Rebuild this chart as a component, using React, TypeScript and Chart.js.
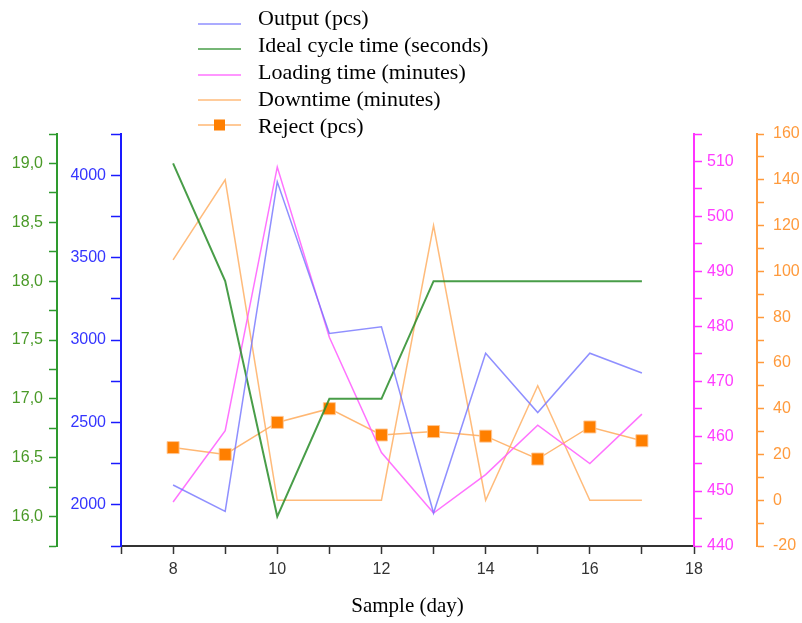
import React, { useEffect, useRef } from 'react';
import { Chart, registerables } from 'chart.js';

Chart.register(...registerables);

// ---- data ----
const days = [8, 9, 10, 11, 12, 13, 14, 15, 16, 17];
const outputPcs = [2120, 1960, 3960, 3040, 3080, 1950, 2920, 2560, 2920, 2800];
const idealCycleSec = [19.0, 18.0, 16.0, 17.0, 17.0, 18.0, 18.0, 18.0, 18.0, 18.0];
const loadingTimeMin = [448, 461, 509, 478, 457, 446, 453, 462, 455, 464];
const downtimeMin = [105, 140, 0, 0, 0, 120, 0, 50, 0, 0];
const rejectPcs = [23, 20, 34, 40, 28.5, 30, 28, 18, 32, 26];

const seriesLabels = [
  'Output (pcs)',
  'Ideal cycle time (seconds)',
  'Loading time (minutes)',
  'Downtime (minutes)',
  'Reject (pcs)',
];
const xTitle = 'Sample (day)';

const SANS = '"Liberation Sans", Arial, sans-serif';
const SERIF = '"Liberation Serif", "Times New Roman", serif';

const pts = (ys: number[]) => days.map((d, i) => ({ x: d, y: ys[i] }));

const legendPlugin = {
  id: 'customLegend',
  afterDraw(chart: any) {
    const ctx = chart.ctx as CanvasRenderingContext2D;
    const textY = [19, 46, 73, 100, 127];
    const lineY = [24, 49, 75, 100, 125];
    ctx.save();
    ctx.font = `22px ${SERIF}`;
    ctx.textBaseline = 'middle';
    ctx.textAlign = 'left';
    chart.data.datasets.forEach((ds: any, i: number) => {
      ctx.strokeStyle = ds.borderColor;
      ctx.lineWidth = 1.5;
      ctx.beginPath();
      ctx.moveTo(198, lineY[i]);
      ctx.lineTo(241, lineY[i]);
      ctx.stroke();
      if (ds.pointRadius > 0) {
        ctx.fillStyle = ds.pointBackgroundColor;
        ctx.fillRect(214, lineY[i] - 5.5, 11, 11);
      }
      ctx.fillStyle = '#000';
      ctx.fillText(ds.label, 258, textY[i]);
    });
    ctx.restore();
  },
};

function yAxis(
  position: 'left' | 'right',
  weight: number,
  min: number,
  max: number,
  step: number,
  labelEvery: number,
  decimals: number,
  axisColor: string,
  labelColor: string,
  width: number,
  tickLen: number,
  pad: number
) {
  return {
    type: 'linear',
    position,
    weight,
    min,
    max,
    ticks: {
      stepSize: step,
      autoSkip: false,
      maxTicksLimit: 100,
      color: labelColor,
      font: { family: SANS, size: 16 },
      padding: pad,
      callback: (v: number) => {
        const r = Math.round(v / labelEvery * 1000) / 1000;
        if (Math.abs(r - Math.round(r)) > 1e-6) return '';
        return decimals > 0 ? v.toFixed(decimals).replace('.', ',') : String(Math.round(v));
      },
    },
    grid: {
      drawOnChartArea: false,
      drawTicks: true,
      tickLength: tickLen,
      tickColor: axisColor,
      tickWidth: 1.5,
      color: axisColor,
    },
    border: { display: true, color: axisColor, width: 2 },
    afterFit: (s: any) => {
      s.width = width;
    },
  };
}

export default function App() {
  const canvasRef = useRef<HTMLCanvasElement | null>(null);

  useEffect(() => {
    if (!canvasRef.current) return;
    const chart = new Chart(canvasRef.current, {
      type: 'line',
      data: {
        datasets: [
          {
            label: seriesLabels[0],
            data: pts(outputPcs),
            yAxisID: 'yOut',
            borderColor: 'rgba(115,115,255,0.8)',
            backgroundColor: 'rgba(115,115,255,0.8)',
            borderWidth: 1.5,
            pointRadius: 0,
          },
          {
            label: seriesLabels[1],
            data: pts(idealCycleSec),
            yAxisID: 'yCycle',
            borderColor: 'rgba(40,140,40,0.85)',
            backgroundColor: 'rgba(40,140,40,0.85)',
            borderWidth: 2,
            pointRadius: 0,
          },
          {
            label: seriesLabels[2],
            data: pts(loadingTimeMin),
            yAxisID: 'yLoad',
            borderColor: 'rgba(255,90,255,0.85)',
            backgroundColor: 'rgba(255,90,255,0.85)',
            borderWidth: 1.5,
            pointRadius: 0,
          },
          {
            label: seriesLabels[3],
            data: pts(downtimeMin),
            yAxisID: 'yDown',
            borderColor: 'rgba(255,175,100,0.85)',
            backgroundColor: 'rgba(255,175,100,0.85)',
            borderWidth: 1.5,
            pointRadius: 0,
          },
          {
            label: seriesLabels[4],
            data: pts(rejectPcs),
            yAxisID: 'yDown',
            borderColor: 'rgba(255,175,100,0.9)',
            backgroundColor: '#ff7f00',
            pointBackgroundColor: '#ff7f00',
            pointBorderColor: 'rgba(255,200,150,0.9)',
            pointBorderWidth: 1,
            pointStyle: 'rect',
            pointRadius: 8.5,
            borderWidth: 1.5,
          },
        ] as any,
      },
      options: {
        responsive: false,
        animation: false,
        devicePixelRatio: 1,
        layout: { padding: { top: 134, left: 0, right: 0, bottom: 0 } },
        plugins: {
          legend: { display: false },
          tooltip: { enabled: false },
        },
        scales: {
          x: {
            type: 'linear',
            position: 'bottom',
            min: 7,
            max: 18,
            ticks: {
              stepSize: 1,
              autoSkip: false,
              maxTicksLimit: 100,
              maxRotation: 0,
              color: '#333',
              font: { family: SANS, size: 16 },
              padding: 6,
              callback: (v: number) => (Math.round(v) % 2 === 0 ? String(v) : ''),
            },
            grid: {
              drawOnChartArea: false,
              drawTicks: true,
              tickLength: 8,
              tickColor: '#333',
              tickWidth: 1.5,
              color: '#333',
            },
            border: { display: true, color: '#333', width: 2 },
            title: {
              display: true,
              text: xTitle,
              color: '#000',
              font: { family: SERIF, size: 21 },
              padding: { top: 4, bottom: 4 },
            },
            afterFit: (s: any) => {
              s.height = 77;
            },
          },
          yCycle: yAxis('left', 2, 15.75, 19.25, 0.25, 0.5, 1, '#2e9a2e', '#4a9a28', 57, 8, 6),
          yOut: yAxis('left', 1, 1750, 4250, 250, 500, 0, '#1a1aff', '#3535ff', 64, 10, 5),
          yLoad: yAxis('right', 1, 440, 515, 5, 10, 0, '#ff33ff', '#ff3cff', 63, 8, 5),
          yDown: yAxis('right', 2, -20, 160, 10, 20, 0, '#ff9a3c', '#ff9a3c', 45, 7, 9),
        } as any,
      },
      plugins: [legendPlugin],
    });
    return () => chart.destroy();
  }, []);

  return (
    <div style={{ position: 'absolute', left: 0, top: 0, width: 802, height: 623, background: '#fff' }}>
      <canvas ref={canvasRef} width={802} height={623} style={{ display: 'block' }} />
    </div>
  );
}
